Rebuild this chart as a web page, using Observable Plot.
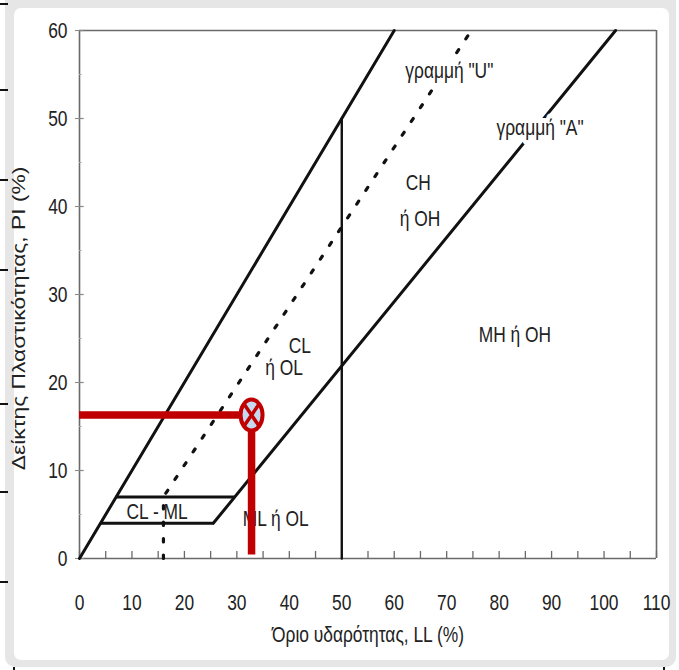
<!DOCTYPE html>
<html>
<head>
<meta charset="utf-8">
<script src="https://cdn.jsdelivr.net/npm/d3@7"></script>
<script src="https://cdn.jsdelivr.net/npm/@observablehq/plot@0.6"></script>
<style>
  html, body { margin: 0; padding: 0; background: #fff; }
  #wrap { position: relative; width: 679px; height: 670px; overflow: hidden; }
  #frame { position: absolute; left: 5px; top: -10px; width: 671px; height: 677px; background: #e6e6e6; border-radius: 10px; }
  #inner { position: absolute; left: 14px; top: 8px; width: 655px; height: 652px; background: #fff; border-radius: 7px; }
  .mk { position: absolute; background: #111; }
  #chart { position: absolute; left: 0; top: 0; }
</style>
</head>
<body>
<div id="wrap">
  <div id="frame"></div>
  <div id="inner"></div>
  <div id="chart"></div>
</div>
<script>
// ---- data ----
const llTicks = [0, 10, 20, 30, 40, 50, 60, 70, 80, 90, 100, 110];
const llMinor = [0, 5, 10, 15, 20, 25, 30, 35, 40, 45, 50, 55, 60, 65, 70, 75, 80, 85, 90, 95, 100, 105, 110];
const piTicks = [0, 10, 20, 30, 40, 50, 60];
const piMinor = [5, 15, 25, 35, 45, 55];

const upperLL = [0, 60];          // PI = LL upper limit line
const upperPI = [0, 60];
const uLineLL = [16, 16, 74.7];   // U-line
const uLinePI = [0, 7, 60];
const aLineLL = [25.5, 102.2];    // A-line
const aLinePI = [4, 60];
const llLimitLL = [50, 50];       // LL = 50 divider
const llLimitPI = [0, 50];
const bandPI = [4, 7];            // CL-ML band limits
const bandFromLL = [4, 7];
const bandToLL = [25.5, 29.6];

const sampleLL = 32.8;            // plotted soil sample
const samplePI = 16.3;
const sampleBottomPI = 0.4;

const labelText = ['γραμμή "U"', 'γραμμή "A"', "CH", "ή OH", "CL", "ή OL", "MH ή OH", "CL - ML", "ML ή OL"];
const labelLL = [70.5, 87.8, 64.6, 64.9, 42.0, 39.0, 83.0, 14.8, 37.4];
const labelPI = [55.4, 48.9, 42.7, 38.6, 24.1, 21.6, 25.4, 5.3, 4.5];
const haloed = [true, true, false, false, false, false, false, false, false];

const xTitle = "Όριο υδαρότητας, LL (%)";
const yTitle = "Δείκτης Πλαστικότητας, PI (%)";

// ---- decorations outside the plot (scan artefacts) ----
const leftMarksY = [3, 89, 179, 269, 403, 491, 581];
const wrap = document.getElementById("wrap");
for (const y of leftMarksY) {
  const d = document.createElement("div");
  d.className = "mk";
  d.style.cssText = `left:0px;top:${y}px;width:8px;height:2px;`;
  wrap.appendChild(d);
}
for (const x of [13, 663]) {
  const d = document.createElement("div");
  d.className = "mk";
  d.style.cssText = `left:${x}px;top:667px;width:2px;height:4px;`;
  wrap.appendChild(d);
}

// ---- custom symbols ----
const ellipseSymbol = {
  draw(ctx) {
    const rx = 11, ry = 15.5, k = 0.5523;
    ctx.moveTo(rx, 0);
    ctx.bezierCurveTo(rx, k * ry, k * rx, ry, 0, ry);
    ctx.bezierCurveTo(-k * rx, ry, -rx, k * ry, -rx, 0);
    ctx.bezierCurveTo(-rx, -k * ry, -k * rx, -ry, 0, -ry);
    ctx.bezierCurveTo(k * rx, -ry, rx, -k * ry, rx, 0);
    ctx.closePath();
  }
};
const crossSymbol = {
  draw(ctx) {
    ctx.moveTo(-7.5, -11); ctx.lineTo(7.5, 11);
    ctx.moveTo(7.5, -11); ctx.lineTo(-7.5, 11);
  }
};

const idx = (arr) => arr.map((_, i) => i);
const font = "'Liberation Sans', Arial, Helvetica, sans-serif";
const red = "#c00000";
const ink = "#111";
const FS = 22;

const chart = Plot.plot({
  width: 679,
  height: 670,
  marginLeft: 79,
  marginRight: 23,
  marginTop: 30,
  marginBottom: 112,
  x: { domain: [0, 110] },
  y: { domain: [0, 60] },
  style: { fontFamily: font, fontSize: FS + "px", background: "transparent", color: "#222" },
  marks: [
    // frame / axes lines
    Plot.ruleY([0, 60], { stroke: "#6a6a6a", strokeWidth: 1.6 }),
    Plot.ruleX([0, 110], { stroke: "#6a6a6a", strokeWidth: 1.6 }),
    // x ticks (inward)
    Plot.ruleX(llMinor, { y1: 0, y2: 0.8, stroke: "#6a6a6a", strokeWidth: 1.3 }),
    Plot.axisX(llTicks, { anchor: "bottom", tickSize: 0, tickPadding: 36, fontSize: FS, label: null, tickFormat: d => String(d) }),
    // y ticks
    Plot.axisY(piTicks, { anchor: "left", tickSize: 4, tickPadding: 8, fontSize: FS, label: null, stroke: "#888", tickFormat: d => String(d) }),
    Plot.ruleY(piTicks, { x1: 0, x2: 0.9, stroke: "#888", strokeWidth: 1.2 }),
    Plot.ruleY(piMinor, { x1: 0, x2: 0.5, stroke: "#aaa", strokeWidth: 1 }),
    // axis titles
    Plot.text([xTitle], { frameAnchor: "bottom", dy: 83, fontSize: FS, fill: "#222" }),
    Plot.text([yTitle], { frameAnchor: "left", textAnchor: "middle", dx: -60, dy: 24, rotate: -90, fontSize: 22.8, fill: "#222", className: "ytitle" }),
    // chart lines
    Plot.line(idx(upperLL), { x: i => upperLL[i], y: i => upperPI[i], stroke: ink, strokeWidth: 3 }),
    Plot.line(idx(aLineLL), { x: i => aLineLL[i], y: i => aLinePI[i], stroke: ink, strokeWidth: 3 }),
    Plot.line(idx(llLimitLL), { x: i => llLimitLL[i], y: i => llLimitPI[i], stroke: ink, strokeWidth: 2.4 }),
    Plot.ruleY(idx(bandPI), { y: i => bandPI[i], x1: i => bandFromLL[i], x2: i => bandToLL[i], stroke: ink, strokeWidth: 3 }),
    Plot.line(idx(uLineLL), { x: i => uLineLL[i], y: i => uLinePI[i], stroke: ink, strokeWidth: 3.2, strokeDasharray: "3.5,13" }),
    // region labels
    Plot.text(idx(labelText), {
      x: i => labelLL[i], y: i => labelPI[i], text: i => labelText[i],
      fontSize: FS, fill: "#222",
      stroke: i => haloed[i] ? "white" : "none", strokeWidth: 10
    }),
    // sample point with red guide lines
    Plot.ruleY([samplePI], { x1: 0, x2: sampleLL, stroke: red, strokeWidth: 7.5 }),
    Plot.ruleX([sampleLL], { y1: sampleBottomPI, y2: samplePI, stroke: red, strokeWidth: 7.5 }),
    Plot.dot([[sampleLL, samplePI]], { x: d => d[0], y: d => d[1], symbol: ellipseSymbol, fill: "#c5d9f1", stroke: red, strokeWidth: 4, r: 10 }),
    Plot.dot([[sampleLL, samplePI]], { x: d => d[0], y: d => d[1], symbol: crossSymbol, fill: "none", stroke: red, strokeWidth: 3.5, r: 10 })
  ]
});

// condense the lettering (the reference uses a narrow typeface)
d3.select(chart).selectAll("text").each(function () {
  const isY = this.closest(".ytitle") != null;
  const t = this.getAttribute("transform") || "";
  this.setAttribute("transform", (t + (isY ? " scale(1,0.8)" : " scale(0.79,1)")).trim());
});

document.getElementById("chart").appendChild(chart);
</script>
</body>
</html>
